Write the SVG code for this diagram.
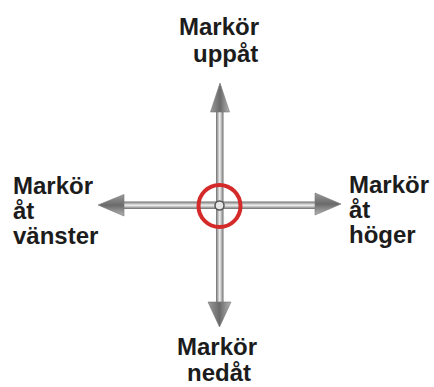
<svg xmlns="http://www.w3.org/2000/svg" width="434" height="387" viewBox="0 0 434 387">
  <style>
    .lbl { font-family: "Liberation Sans", Arial, sans-serif; font-weight: bold; font-size: 24px; fill: #1c1c1c; }
  </style>
  <defs>
    <linearGradient id="vshaft" x1="0" y1="0" x2="1" y2="0">
      <stop offset="0" stop-color="#6e6e6e"/>
      <stop offset="0.5" stop-color="#f2f2f2"/>
      <stop offset="1" stop-color="#6e6e6e"/>
    </linearGradient>
    <linearGradient id="hshaft" x1="0" y1="0" x2="0" y2="1">
      <stop offset="0" stop-color="#6e6e6e"/>
      <stop offset="0.5" stop-color="#f2f2f2"/>
      <stop offset="1" stop-color="#6e6e6e"/>
    </linearGradient>
    <linearGradient id="headV" x1="0" y1="0" x2="1" y2="0">
      <stop offset="0" stop-color="#9a9a9a"/>
      <stop offset="0.5" stop-color="#6a6a6a"/>
      <stop offset="1" stop-color="#b5b5b5"/>
    </linearGradient>
    <linearGradient id="headH" x1="0" y1="0" x2="0" y2="1">
      <stop offset="0" stop-color="#9a9a9a"/>
      <stop offset="0.5" stop-color="#6a6a6a"/>
      <stop offset="1" stop-color="#b5b5b5"/>
    </linearGradient>
  </defs>

  <g id="connectors">
    <rect x="216" y="110" width="7.5" height="194" fill="url(#vshaft)"/>
    <rect x="122" y="201.5" width="195" height="7.5" fill="url(#hshaft)"/>
    <polygon points="220,83 229.5,112 210.5,112" fill="url(#headV)" stroke="#777" stroke-width="0.6"/>
    <polygon points="219.5,327 231,302 208,302" fill="url(#headV)" stroke="#777" stroke-width="0.6"/>
    <polygon points="98,205 124,194.5 124,216" fill="url(#headH)" stroke="#777" stroke-width="0.6"/>
    <polygon points="341,204 315,193 315,215" fill="url(#headH)" stroke="#777" stroke-width="0.6"/>
  </g>

  <g id="center">
    <circle cx="219.5" cy="206" r="21" fill="none" stroke="#d42a2a" stroke-width="4"/>
    <circle cx="219.5" cy="205.5" r="4.5" fill="#e6e6e6" stroke="#555" stroke-width="1.5"/>
  </g>

  <g id="node-up">
    <text class="lbl" x="179" y="35">Markör</text>
    <text class="lbl" x="193" y="62">uppåt</text>
  </g>
  <g id="node-down">
    <text class="lbl" x="177" y="355">Markör</text>
    <text class="lbl" x="187" y="381">nedåt</text>
  </g>
  <g id="node-left">
    <text class="lbl" x="13" y="194">Markör</text>
    <text class="lbl" x="13" y="219">åt</text>
    <text class="lbl" x="13" y="244">vänster</text>
  </g>
  <g id="node-right">
    <text class="lbl" x="349" y="193">Markör</text>
    <text class="lbl" x="349" y="218">åt</text>
    <text class="lbl" x="349" y="243">höger</text>
  </g>
</svg>
